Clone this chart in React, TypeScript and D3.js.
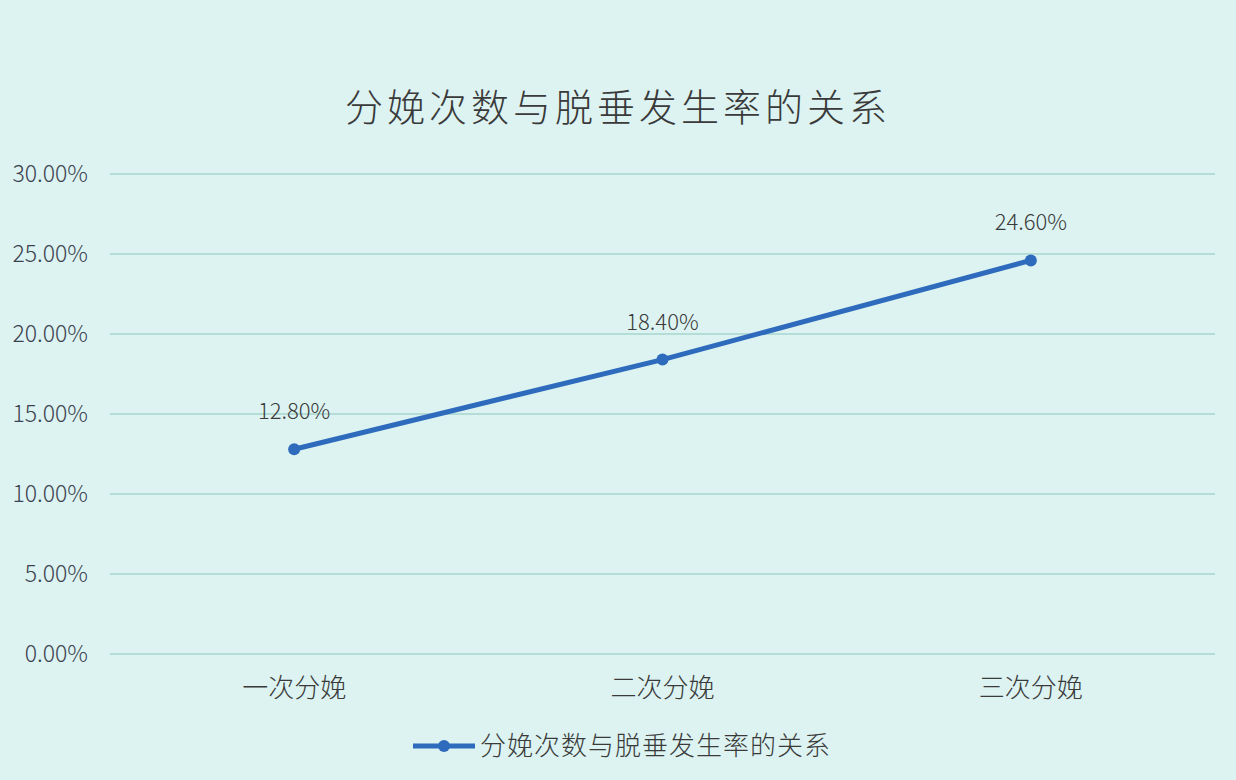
import * as d3 from "d3";

const categories = ["一次分娩", "二次分娩", "三次分娩"];
const rates = [12.8, 18.4, 24.6];
const yTicks = [0, 5, 10, 15, 20, 25, 30];
const chartTitle = "分娩次数与脱垂发生率的关系";
const seriesName = "分娩次数与脱垂发生率的关系";

const W = 1236;
const H = 780;
const FONT = "'Noto Sans CJK SC', 'Noto Sans', sans-serif";
const LINE_COLOR = "#2e6bbd";
const TEXT_COLOR = "#3a3a3a";

const App = () => {
  const margin = { left: 110, right: 21, top: 174, bottom: 126 };
  const x = d3
    .scaleBand<string>()
    .domain(categories)
    .range([margin.left, W - margin.right])
    .paddingInner(0)
    .paddingOuter(0);
  const y = d3.scaleLinear().domain([0, 30]).range([H - margin.bottom, margin.top]);
  const cx = (c: string) => (x(c) ?? 0) + x.bandwidth() / 2;

  const line = d3
    .line<number>()
    .x((_, i) => cx(categories[i]))
    .y((v) => y(v));

  return (
    <svg
      width={W}
      height={H}
      style={{ position: "absolute", left: 0, top: 0, display: "block" }}
      fontFamily={FONT}
      fontWeight={300}
    >
      <rect x={0} y={0} width={W} height={H} fill="#dcf3f1" />
      <text
        x={618}
        y={121}
        textAnchor="middle"
        fontSize={38}
        fill={TEXT_COLOR}
        letterSpacing={4}
      >
        {chartTitle}
      </text>

      {yTicks.map((t) => (
        <g key={t}>
          <line
            x1={margin.left}
            x2={W - margin.right}
            y1={y(t)}
            y2={y(t)}
            stroke="#a6d6cd"
            strokeWidth={1.5}
          />
          <text
            x={88}
            y={y(t)}
            dy="0.36em"
            textAnchor="end"
            fontSize={23}
            fill="#3c4250"
          >
            {`${t.toFixed(2)}%`}
          </text>
        </g>
      ))}

      {categories.map((c) => (
        <text
          key={c}
          x={cx(c)}
          y={697}
          textAnchor="middle"
          fontSize={26}
          fill={TEXT_COLOR}
        >
          {c}
        </text>
      ))}

      <path
        d={line(rates) ?? ""}
        fill="none"
        stroke={LINE_COLOR}
        strokeWidth={5}
        strokeLinejoin="round"
      />
      {rates.map((v, i) => (
        <g key={i}>
          <circle cx={cx(categories[i])} cy={y(v)} r={6} fill={LINE_COLOR} />
          <text
            x={cx(categories[i])}
            y={y(v) - 30}
            textAnchor="middle"
            fontSize={22}
            fill={TEXT_COLOR}
          >
            {`${v.toFixed(2)}%`}
          </text>
        </g>
      ))}

      <g>
        <line x1={413} x2={475} y1={746} y2={746} stroke={LINE_COLOR} strokeWidth={5} />
        <circle cx={444} cy={746} r={6} fill={LINE_COLOR} />
        <text x={480} y={746} dy="0.36em" fontSize={26} fill={TEXT_COLOR} letterSpacing={1}>
          {seriesName}
        </text>
      </g>
    </svg>
  );
};

export default App;
